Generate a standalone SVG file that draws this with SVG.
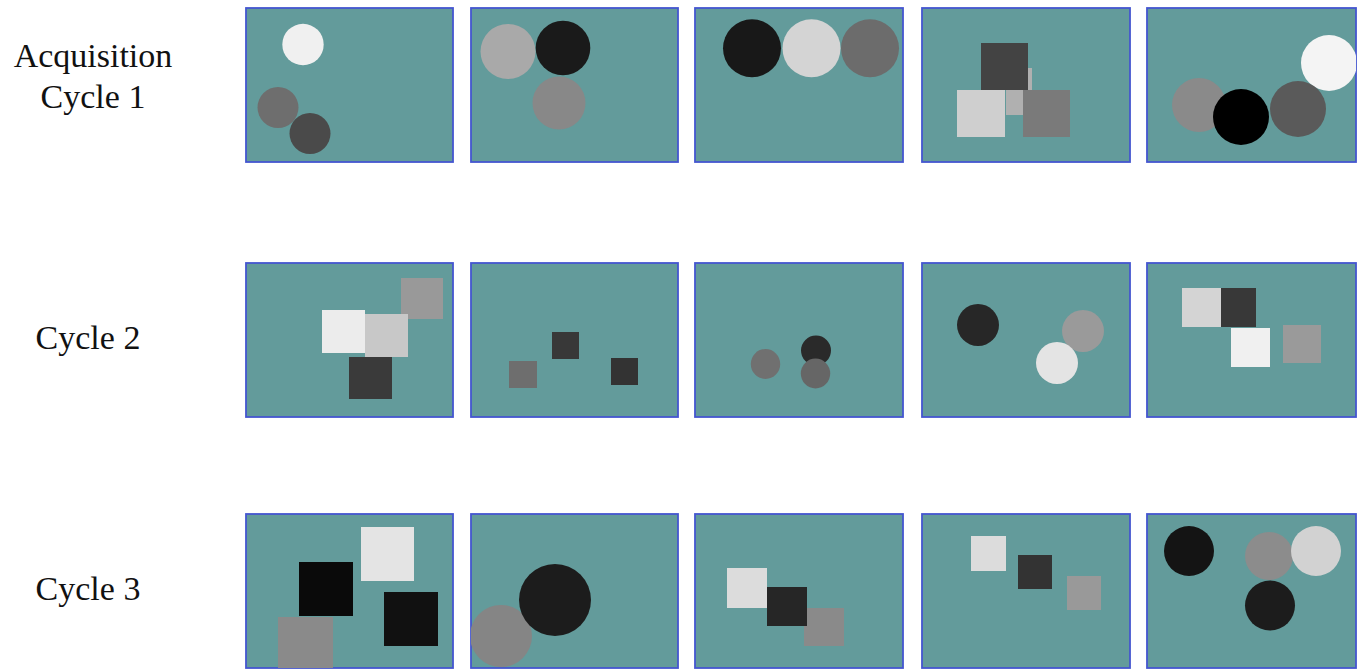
<svg xmlns="http://www.w3.org/2000/svg" width="1360" height="669" viewBox="0 0 1360 669">
<style>
.bg{fill:#639b9b;stroke:#4456d0;stroke-width:1.8}
.lbl{font-family:"Liberation Serif","Times New Roman",serif;font-size:34px;fill:#111111;text-anchor:middle}
</style>
<defs>
<clipPath id="c15"><rect x="1147" y="8" width="209" height="154"/></clipPath>
<clipPath id="c31"><rect x="246" y="514" width="207" height="154"/></clipPath>
<clipPath id="c32"><rect x="471" y="514" width="207" height="154"/></clipPath>
</defs>
<rect width="1360" height="669" fill="#ffffff"/>
<g id="labels">
<text class="lbl" x="93" y="67">Acquisition</text>
<text class="lbl" x="93" y="108">Cycle 1</text>
<text class="lbl" x="88" y="349">Cycle 2</text>
<text class="lbl" x="88" y="600">Cycle 3</text>
</g>
<!-- Row 1 -->
<g id="r1p1">
<rect class="bg" x="246" y="8" width="207" height="154"/>
<circle cx="303" cy="44.5" r="20.7" fill="#f0f0f0"/>
<circle cx="278" cy="107.5" r="20.5" fill="#6e6e6e"/>
<circle cx="310" cy="133.5" r="20.5" fill="#4a4a4a"/>
</g>
<g id="r1p2">
<rect class="bg" x="471" y="8" width="207" height="154"/>
<circle cx="559" cy="103" r="26.5" fill="#888888"/>
<circle cx="508" cy="51.5" r="27.5" fill="#a9a9a9"/>
<circle cx="563" cy="48" r="27.3" fill="#1a1a1a"/>
</g>
<g id="r1p3">
<rect class="bg" x="695" y="8" width="208" height="154"/>
<circle cx="752" cy="48.3" r="29" fill="#181818"/>
<circle cx="870" cy="48.3" r="29" fill="#6c6c6c"/>
<circle cx="811.5" cy="48.3" r="29" fill="#d4d4d4"/>
</g>
<g id="r1p4">
<rect class="bg" x="922" y="8" width="208" height="154"/>
<rect x="1006" y="68" width="26" height="47" fill="#b0b0b0"/>
<rect x="981" y="43" width="47" height="47" fill="#434343"/>
<rect x="957" y="90" width="48" height="47" fill="#cfcfcf"/>
<rect x="1023" y="90" width="47" height="47" fill="#7a7a7a"/>
</g>
<g id="r1p5">
<rect class="bg" x="1147" y="8" width="209" height="154"/>
<g clip-path="url(#c15)">
<circle cx="1329" cy="63" r="28" fill="#f4f4f4"/>
<circle cx="1199" cy="105" r="27" fill="#8a8a8a"/>
<circle cx="1298" cy="109" r="28" fill="#5a5a5a"/>
<circle cx="1241" cy="117" r="28" fill="#000000"/>
</g>
</g>
<!-- Row 2 -->
<g id="r2p1">
<rect class="bg" x="246" y="263" width="207" height="154"/>
<rect x="401" y="278" width="42" height="41" fill="#999999"/>
<rect x="349" y="357" width="43" height="42" fill="#3a3a3a"/>
<rect x="365" y="314" width="43" height="43" fill="#c8c8c8"/>
<rect x="322" y="310" width="43" height="43" fill="#ececec"/>
</g>
<g id="r2p2">
<rect class="bg" x="471" y="263" width="207" height="154"/>
<rect x="552" y="332" width="27" height="27" fill="#383838"/>
<rect x="509" y="361" width="28" height="27" fill="#6e6e6e"/>
<rect x="611" y="358" width="27" height="27" fill="#333333"/>
</g>
<g id="r2p3">
<rect class="bg" x="695" y="263" width="208" height="154"/>
<ellipse cx="765.5" cy="364" rx="14.7" ry="15" fill="#707070"/>
<ellipse cx="816" cy="350.5" rx="15" ry="15" fill="#2a2a2a"/>
<ellipse cx="815.5" cy="373.5" rx="14.7" ry="15" fill="#666666"/>
</g>
<g id="r2p4">
<rect class="bg" x="922" y="263" width="208" height="154"/>
<circle cx="978" cy="325" r="21" fill="#272727"/>
<circle cx="1083" cy="331" r="21" fill="#9a9a9a"/>
<circle cx="1057" cy="363" r="21" fill="#e4e4e4"/>
</g>
<g id="r2p5">
<rect class="bg" x="1147" y="263" width="209" height="154"/>
<rect x="1182" y="288" width="39" height="39" fill="#d4d4d4"/>
<rect x="1221" y="288" width="35" height="39" fill="#383838"/>
<rect x="1231" y="328" width="39" height="39" fill="#f0f0f0"/>
<rect x="1283" y="325" width="38" height="38" fill="#9a9a9a"/>
</g>
<!-- Row 3 -->
<g id="r3p1">
<rect class="bg" x="246" y="514" width="207" height="154"/>
<g clip-path="url(#c31)">
<rect x="361" y="527" width="53" height="54" fill="#e4e4e4"/>
<rect x="299" y="562" width="54" height="54" fill="#0a0a0a"/>
<rect x="384" y="592" width="54" height="54" fill="#111111"/>
<rect x="278" y="617" width="55" height="55" fill="#8a8a8a"/>
</g>
</g>
<g id="r3p2">
<rect class="bg" x="471" y="514" width="207" height="154"/>
<g clip-path="url(#c32)">
<circle cx="501" cy="636" r="31" fill="#858585"/>
<circle cx="555" cy="600" r="36" fill="#1c1c1c"/>
</g>
</g>
<g id="r3p3">
<rect class="bg" x="695" y="514" width="208" height="154"/>
<rect x="727" y="568" width="40" height="40" fill="#dcdcdc"/>
<rect x="804" y="608" width="40" height="38" fill="#8a8a8a"/>
<rect x="767" y="587" width="40" height="39" fill="#262626"/>
</g>
<g id="r3p4">
<rect class="bg" x="922" y="514" width="208" height="154"/>
<rect x="971" y="536" width="35" height="35" fill="#dcdcdc"/>
<rect x="1018" y="555" width="34" height="34" fill="#333333"/>
<rect x="1067" y="576" width="34" height="34" fill="#999999"/>
</g>
<g id="r3p5">
<rect class="bg" x="1147" y="514" width="209" height="154"/>
<circle cx="1189" cy="551" r="25" fill="#141414"/>
<circle cx="1269" cy="556" r="24" fill="#8c8c8c"/>
<circle cx="1316" cy="551" r="25" fill="#d2d2d2"/>
<circle cx="1270" cy="605.5" r="25" fill="#1c1c1c"/>
</g>
</svg>
